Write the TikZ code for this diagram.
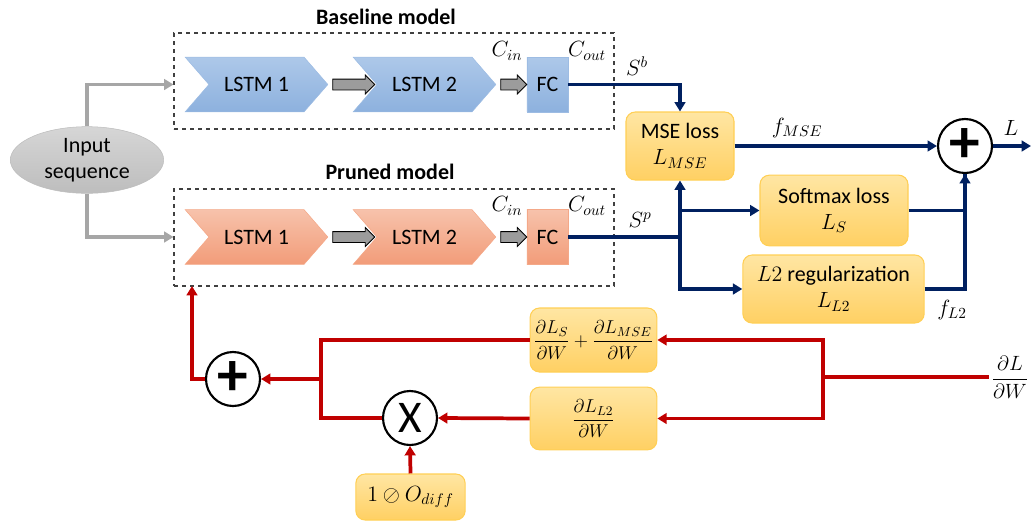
\RequirePackage{fix-cm}
\documentclass[tikz,border=0pt]{standalone}
\usepackage{amsmath,amssymb}
\usepackage{fontspec}
\setmainfont{Carlito}
\usetikzlibrary{positioning,shapes.symbols,shapes.arrows,shapes.geometric,arrows.meta}

\definecolor{bluetop}{HTML}{ADC8E9}
\definecolor{bluebot}{HTML}{8DB1DE}
\definecolor{blueedge}{HTML}{9DBCE3}
\definecolor{orangetop}{HTML}{F7C2AB}
\definecolor{orangebot}{HTML}{F29C79}
\definecolor{orangeedge}{HTML}{F4A888}
\definecolor{yellowtop}{HTML}{FFE6A3}
\definecolor{yellowbot}{HTML}{FFD063}
\definecolor{yellowedge}{HTML}{FFCF55}
\definecolor{navy}{HTML}{002060}
\definecolor{darkred}{HTML}{C00000}
\definecolor{linegray}{HTML}{A6A6A6}
\definecolor{arrowgray}{HTML}{9C9C9C}
\definecolor{inputtop}{HTML}{D6D6D6}
\definecolor{inputbot}{HTML}{BDBDBD}

\begin{document}
\begin{tikzpicture}[x=0.75pt, y=-0.75pt,
    every node/.style = { font=\fontsize{16.5}{19.5}\selectfont, inner sep=2pt },
    lstmb/.style = { shape=signal, signal from=west, signal to=east, signal pointer angle=98,
                     minimum width=107pt, minimum height=41pt, inner sep=0pt,
                     draw=blueedge, top color=bluetop, bottom color=bluebot },
    lstmp/.style = { lstmb, draw=orangeedge, top color=orangetop, bottom color=orangebot },
    fcb/.style = { rectangle, minimum width=31pt, minimum height=41pt, inner sep=0pt,
                   draw=blueedge, top color=bluetop, bottom color=bluebot },
    fcp/.style = { fcb, draw=orangeedge, top color=orangetop, bottom color=orangebot },
    blockarrow/.style = { single arrow, draw=black, line width=0.6pt, fill=arrowgray,
                          inner xsep=0pt, inner ysep=3.75pt, single arrow head extend=3pt },
    modelbox/.style = { draw=black!75, dashed, line width=0.8pt, minimum width=330pt },
    title/.style = { font=\fontsize{16.5}{19.5}\selectfont\bfseries },
    lossbox/.style = { rectangle, rounded corners=7pt, draw=yellowedge, line width=0.8pt,
                       top color=yellowtop, bottom color=yellowbot, align=center, inner sep=0pt },
    opnode/.style = { circle, draw=black, line width=1.6pt, fill=white,
                      minimum size=40.5pt, inner sep=0pt },
    navyline/.style = { draw=navy, line width=2.4pt, -{Triangle[length=7pt,width=8pt]} },
    navyplain/.style = { draw=navy, line width=2.4pt },
    redline/.style = { draw=darkred, line width=2.8pt, -{Triangle[length=7pt,width=8pt]} },
    redplain/.style = { draw=darkred, line width=2.8pt },
    grayline/.style = { draw=linegray, line width=2.4pt, -{Triangle[length=7pt,width=8pt]} }
  ]
  \useasboundingbox (0,0) rectangle (1031,522);

  % input
  \node (inp) [ellipse, draw=inputbot, top color=inputtop, bottom color=inputbot,
               minimum width=115pt, minimum height=50pt, inner sep=0pt, align=center] at (87,160) {Input\\sequence};

  % baseline model
  \node (baseTitle) [title] at (386,17) {Baseline model};
  \node (baseBox) [modelbox, minimum height=72pt] at (394,81) {};
  \node (lstmBa) [lstmb] at (256.5,84.5) {LSTM 1};
  \node (lstmBb) [lstmb] at (424.5,84.5) {LSTM 2};
  \node (fcB) [fcb] at (547.5,84.5) {FC};
  \node (arrBa) [blockarrow, minimum height=31.5pt] at (351,84.5) {};
  \node (arrBb) [blockarrow, minimum height=19.5pt] at (511,84.5) {};
  \node (cinB) at (507,51) {$C_{in}$};
  \node (coutB) at (587,51) {$C_{out}$};

  % pruned model
  \node (pruneTitle) [title] at (390,172) {Pruned model};
  \node (pruneBox) [modelbox, minimum height=72.75pt] at (394,237.5) {};
  \node (lstmPa) [lstmp] at (256.5,237) {LSTM 1};
  \node (lstmPb) [lstmp] at (424.5,237) {LSTM 2};
  \node (fcP) [fcp] at (547.5,237) {FC};
  \node (arrPa) [blockarrow, minimum height=31.5pt] at (351,237) {};
  \node (arrPb) [blockarrow, minimum height=19.5pt] at (511,237) {};
  \node (cinP) at (507,206) {$C_{in}$};
  \node (coutP) at (587,206) {$C_{out}$};

  % losses
  \node (mse) [lossbox, minimum width=81pt, minimum height=51pt] at (680,146) {MSE loss\\$L_{MSE}$};
  \node (softmax) [lossbox, minimum width=111pt, minimum height=53pt] at (834,210.5) {Softmax loss\\$L_S$};
  \node (l2reg) [lossbox, minimum width=136pt, minimum height=51pt] at (833.5,289) {$L2$ regularization\\$L_{L2}$};
  \node (sumL) [opnode, font=\fontsize{46}{46}\selectfont\bfseries] at (965,146) {+};
  \node (sb) at (637,66) {$S^b$};
  \node (sp) at (640,220) {$S^p$};
  \node (fmse) at (797,128) {$f_{MSE}$};
  \node (fl2) at (952,310) {$f_{L2}$};
  \node (lout) at (1011,128) {$L$};
  \coordinate (outL) at (1031,146);

  % gradients
  \node (dLS) [lossbox, minimum width=95pt, minimum height=48pt, font=\fontsize{14}{17}\selectfont] at (593.5,340)
        {$\dfrac{\partial L_S}{\partial W}+\dfrac{\partial L_{MSE}}{\partial W}$};
  \node (dL2) [lossbox, minimum width=95pt, minimum height=47pt, font=\fontsize{14}{17}\selectfont] at (593.5,418.5)
        {$\dfrac{\partial L_{L2}}{\partial W}$};
  \node (odiff) [lossbox, minimum width=82pt, minimum height=34.5pt] at (410.5,497) {$1 \oslash O_{diff}$};
  \node (mulX) [opnode, font=\fontsize{34}{34}\selectfont] at (410,418) {X};
  \node (sum2) [opnode, font=\fontsize{46}{46}\selectfont\bfseries] at (233,379) {+};
  \node (dLdW) [font=\fontsize{15.5}{18}\selectfont] at (1010,377) {$\dfrac{\partial L}{\partial W}$};
  \coordinate (jR) at (823,377);
  \coordinate (jL) at (321,379);
  \coordinate (fbIn) at (192,286);

  % connectors
  \draw[grayline] (inp.north) |- (baseBox.west |- lstmBa.center);
  \draw[grayline] (inp.south) |- (pruneBox.west |- lstmPa.center);

  \draw[navyline] (fcB.east) -| (mse.north);
  \draw[navyline] (fcP.east) -| (mse.south);
  \coordinate (jP) at (mse.south |- fcP.east);
  \coordinate (jS) at (mse.south |- softmax.west);
  \draw[navyline] (jS) -- (softmax.west);
  \draw[navyline] (jP) |- (l2reg.west);
  \draw[navyline] (mse.east) -- (sumL.west);
  \draw[navyplain] (softmax.east) -| (sumL.south);
  \draw[navyline] (l2reg.east) -| (sumL.south);
  \draw[navyline] (sumL.east) -- (outL);

  \draw[redplain] (dLdW.west) -- (jR);
  \draw[redline] (jR) |- (dLS.east);
  \draw[redline] (jR) |- (dL2.east);
  \draw[redplain] (dLS.west) -| (jL) |- (mulX.west);
  \draw[redline] (jL) -- (sum2.east);
  \draw[redline] (dL2.west) -- (mulX.east);
  \draw[redline] (odiff.north) -- (mulX.south);
  \draw[redline] (sum2.west) -| (fbIn);
\end{tikzpicture}
\end{document}
